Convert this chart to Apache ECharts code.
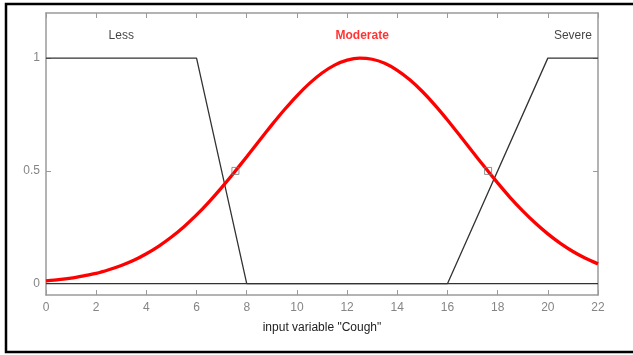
<!DOCTYPE html>
<html>
<head>
  <meta charset="UTF-8">
  <title>Cough</title>
  <script src="https://cdn.jsdelivr.net/npm/echarts@6/dist/echarts.min.js"></script>
  <style>
    html, body { margin: 0; padding: 0; background: #fff; }
  </style>
</head>
<body>
<div id="main" style="width:633px;height:355px;"></div>
<script type="text/javascript">
  // membership functions
  var lessPts = [[0, 1], [6, 1], [8, 0], [22, 0]];
  var severePts = [[0, 0], [16, 0], [20, 1], [22, 1]];
  var moderateX = [0, 0.5, 1, 1.5, 2, 2.5, 3, 3.5, 4, 4.5, 5, 5.5, 6, 6.5, 7, 7.5, 8, 8.5, 9, 9.5, 10, 10.5, 11, 11.5,
                   12, 12.5, 13, 13.5, 14, 14.5, 15, 15.5, 16, 16.5, 17, 17.5, 18, 18.5, 19, 19.5, 20, 20.5, 21, 21.5, 22];
  var moderateY = [0.013, 0.018, 0.025, 0.035, 0.046, 0.062, 0.081, 0.104, 0.133, 0.167, 0.207, 0.253, 0.305, 0.363, 0.426, 0.493,
                   0.563, 0.634, 0.704, 0.771, 0.833, 0.888, 0.934, 0.969, 0.991, 1.0, 0.995, 0.977, 0.946, 0.904, 0.852,
                   0.792, 0.726, 0.656, 0.585, 0.515, 0.447, 0.382, 0.323, 0.269, 0.221, 0.179, 0.143, 0.113, 0.088];
  var crossPts = [[7.55, 0.5], [17.62, 0.5]];
  var mfNames = ['Less', 'Moderate', 'Severe'];
  var mfLabelPos = [[3.0, 1.1], [12.6, 1.1], [21.0, 1.1]];
  var yTicks = [0, 0.5, 1];

  var moderatePts = [];
  for (var i = 0; i < moderateX.length; i++) {
    moderatePts.push([moderateX[i], moderateY[i]]);
  }
  var labelPts = [];
  for (var j = 0; j < mfNames.length; j++) {
    labelPts.push({
      value: mfLabelPos[j],
      label: { color: j === 1 ? '#ff0000' : '#111', fontWeight: j === 1 ? 'bold' : 'normal' },
      name: mfNames[j]
    });
  }

  var boxColor = '#9a9a9a';
  var font = '"Liberation Sans", Arial, sans-serif';

  function xAx(pos, showLabel) {
    return {
      type: 'value', position: pos, min: 0, max: 22, interval: 2,
      axisLine: { show: true, onZero: false, lineStyle: { color: boxColor, width: 1.5 } },
      axisTick: { show: true, inside: true, length: 5, lineStyle: { color: boxColor } },
      axisLabel: { show: showLabel, color: '#858585', fontSize: 12, fontFamily: font, margin: 7 },
      splitLine: { show: false },
      name: showLabel ? 'input variable "Cough"' : '',
      nameLocation: 'middle', nameGap: 27,
      nameTextStyle: { color: '#222', fontSize: 12, fontFamily: font }
    };
  }
  function yAx(pos, showLabel) {
    return {
      type: 'value', position: pos, min: -0.05, max: 1.2,
      axisLine: { show: true, onZero: false, lineStyle: { color: boxColor, width: 1.5 } },
      axisTick: { show: true, inside: true, length: 5, customValues: yTicks, lineStyle: { color: boxColor } },
      axisLabel: { show: showLabel, customValues: yTicks, color: '#858585', fontSize: 12, fontFamily: font, margin: 6 },
      splitLine: { show: false }
    };
  }

  var myChart = echarts.init(document.getElementById('main'));
  myChart.setOption({
    animation: false,
    grid: { left: 46, right: 35, top: 13, bottom: 60 },
    graphic: [{
      type: 'polyline',
      shape: { points: [[640, 4], [6, 4], [6, 352], [640, 352]] },
      style: { stroke: '#000', lineWidth: 2.5, fill: null }
    }],
    xAxis: [xAx('bottom', true), xAx('top', false)],
    yAxis: [yAx('left', true), yAx('right', false)],
    series: [
      {
        name: 'Less', type: 'line', data: lessPts, symbol: 'none',
        lineStyle: { color: '#333', width: 1.3 }
      },
      {
        name: 'Severe', type: 'line', data: severePts, symbol: 'none',
        lineStyle: { color: '#333', width: 1.3 }
      },
      {
        name: 'Moderate', type: 'line', data: moderatePts, symbol: 'none', smooth: 0.2,
        lineStyle: { color: '#ff0000', width: 3.3 }, z: 3
      },
      {
        type: 'scatter', data: crossPts, symbol: 'rect', symbolSize: 7,
        itemStyle: { color: 'rgba(255,255,255,0)', borderColor: '#777', borderWidth: 1 }, z: 4
      },
      {
        type: 'scatter', data: labelPts, symbolSize: 0,
        label: {
          show: true, position: 'inside', fontSize: 12, fontFamily: font,
          formatter: function (p) { return p.name; }
        }
      }
    ]
  });
</script>
</body>
</html>
